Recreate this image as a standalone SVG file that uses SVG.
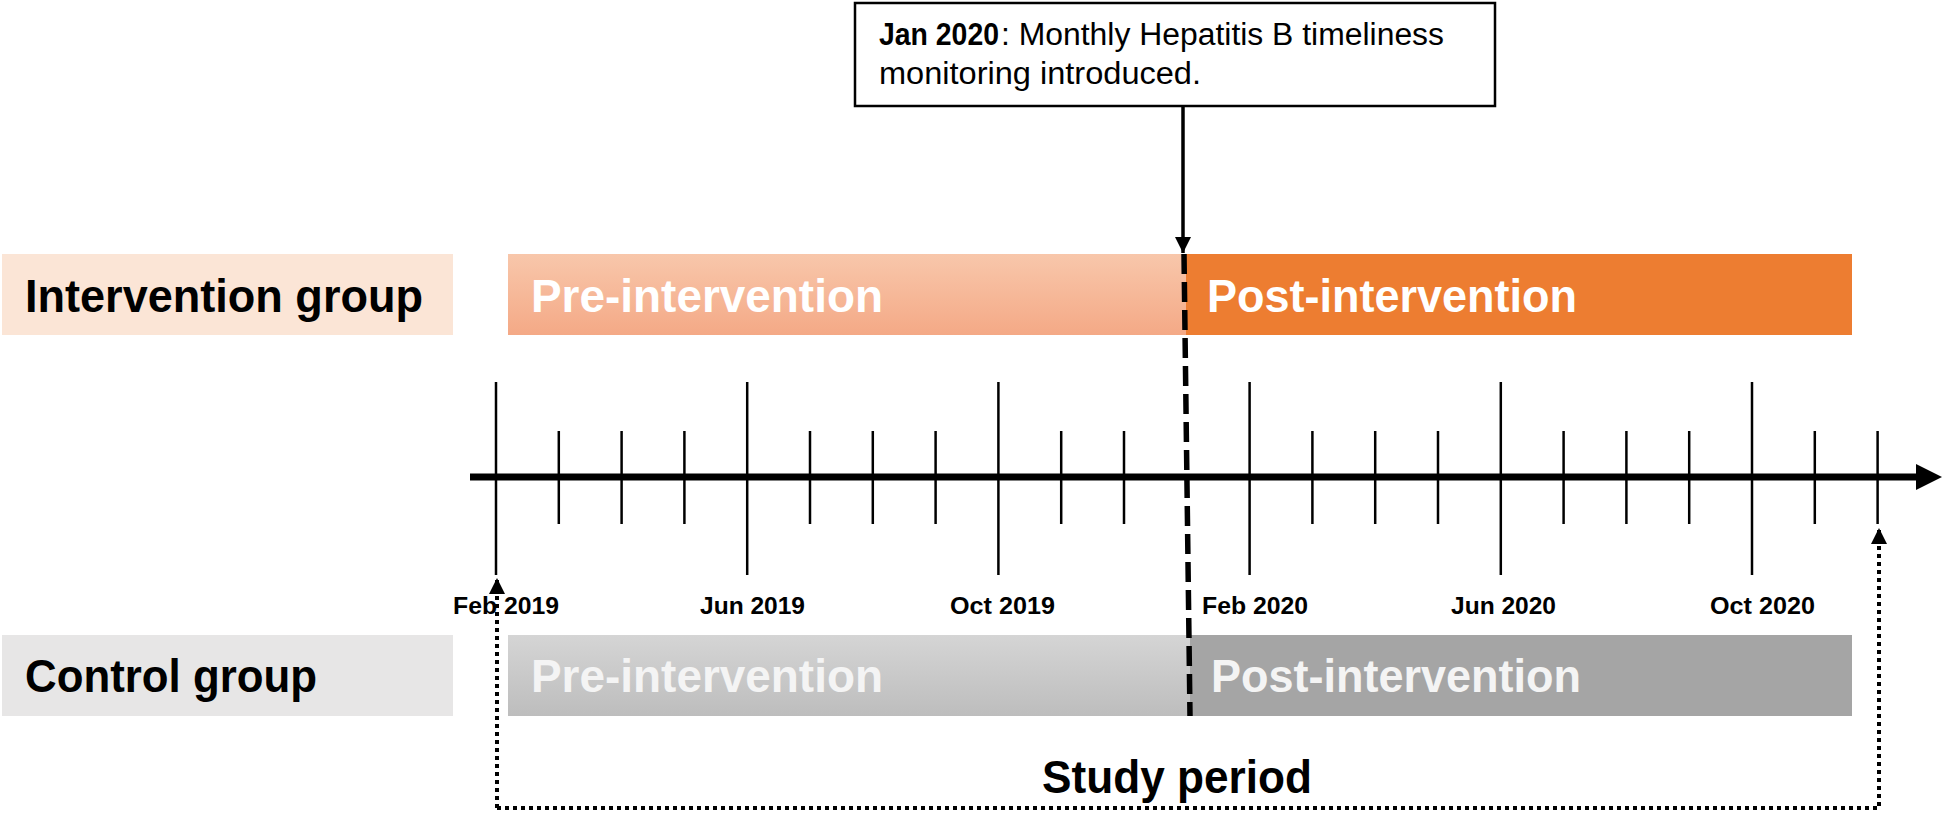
<svg xmlns="http://www.w3.org/2000/svg" width="1944" height="814" viewBox="0 0 1944 814">
  <style>
    .big { font-family: "Liberation Sans", Arial, sans-serif; font-weight: bold; font-size: 46px; }
    .dark { fill: #000000; }
    .white { fill: #ffffff; }
    .date { font-family: "Liberation Sans", Arial, sans-serif; font-weight: bold; font-size: 24px; fill: #000; }
    .note { font-family: "Liberation Sans", Arial, sans-serif; font-size: 31px; fill: #000; }
    .tick { stroke: #000; stroke-width: 2.5; }
  </style>
  <defs>
    <linearGradient id="gPreI" x1="0" y1="0" x2="0" y2="1">
      <stop offset="0" stop-color="#F8C7AB"/>
      <stop offset="1" stop-color="#F4A986"/>
    </linearGradient>
    <linearGradient id="gPreC" x1="0" y1="0" x2="0" y2="1">
      <stop offset="0" stop-color="#D5D5D5"/>
      <stop offset="1" stop-color="#BDBDBD"/>
    </linearGradient>
    <marker id="tri" viewBox="0 0 16 16" refX="16" refY="8" markerWidth="16" markerHeight="16" markerUnits="userSpaceOnUse" orient="auto">
      <path d="M0,0 L16,8 L0,16 z" fill="#000"/>
    </marker>
  </defs>
  <rect width="1944" height="814" fill="#ffffff"/>

  <g id="intervention-label">
    <rect x="2" y="254" width="451" height="81" fill="#FBE5D6"/>
    <text class="big dark" x="25" y="312" textLength="398" lengthAdjust="spacingAndGlyphs">Intervention group</text>
  </g>
  <g id="intervention-pre">
    <rect x="508" y="254" width="678" height="81" fill="url(#gPreI)"/>
    <text class="big white" x="531" y="312" textLength="352" lengthAdjust="spacingAndGlyphs">Pre-intervention</text>
  </g>
  <g id="intervention-post">
    <rect x="1186" y="254" width="666" height="81" fill="#ED7D31"/>
    <text class="big white" x="1207" y="312" textLength="370" lengthAdjust="spacingAndGlyphs">Post-intervention</text>
  </g>

  <g id="control-label">
    <rect x="2" y="635" width="451" height="81" fill="#E7E6E6"/>
    <text class="big dark" x="25" y="692" textLength="292" lengthAdjust="spacingAndGlyphs">Control group</text>
  </g>
  <g id="control-pre">
    <rect x="508" y="635" width="682" height="81" fill="url(#gPreC)"/>
    <text class="big" fill="#F4F4F4" x="531" y="692" textLength="352" lengthAdjust="spacingAndGlyphs">Pre-intervention</text>
  </g>
  <g id="control-post">
    <rect x="1190" y="635" width="662" height="81" fill="#A5A5A5"/>
    <text class="big" fill="#F4F4F4" x="1211" y="692" textLength="370" lengthAdjust="spacingAndGlyphs">Post-intervention</text>
  </g>

  <g id="callout">
    <rect x="855" y="3" width="640" height="103" fill="#fff" stroke="#000" stroke-width="2.5"/>
    <text class="note" x="879" y="45" font-weight="bold" textLength="120" lengthAdjust="spacingAndGlyphs">Jan 2020</text>
    <text class="note" x="1001" y="45" textLength="443" lengthAdjust="spacingAndGlyphs">: Monthly Hepatitis B timeliness</text>
    <text class="note" x="879" y="84" textLength="322" lengthAdjust="spacingAndGlyphs">monitoring introduced.</text>
  </g>

  <g id="timeline">
    <line x1="470" y1="477" x2="1920" y2="477" stroke="#000" stroke-width="7"/>
    <polygon points="1916,464 1942,477 1916,490" fill="#000"/>
    <g class="ticks">
      <line class="tick" x1="496" y1="382" x2="496" y2="575"/>
      <line class="tick" x1="558.8" y1="431" x2="558.8" y2="524"/>
      <line class="tick" x1="621.6" y1="431" x2="621.6" y2="524"/>
      <line class="tick" x1="684.4" y1="431" x2="684.4" y2="524"/>
      <line class="tick" x1="747.2" y1="382" x2="747.2" y2="575"/>
      <line class="tick" x1="810" y1="431" x2="810" y2="524"/>
      <line class="tick" x1="872.8" y1="431" x2="872.8" y2="524"/>
      <line class="tick" x1="935.6" y1="431" x2="935.6" y2="524"/>
      <line class="tick" x1="998.4" y1="382" x2="998.4" y2="575"/>
      <line class="tick" x1="1061.2" y1="431" x2="1061.2" y2="524"/>
      <line class="tick" x1="1124" y1="431" x2="1124" y2="524"/>
      <line class="tick" x1="1249.6" y1="382" x2="1249.6" y2="575"/>
      <line class="tick" x1="1312.4" y1="431" x2="1312.4" y2="524"/>
      <line class="tick" x1="1375.2" y1="431" x2="1375.2" y2="524"/>
      <line class="tick" x1="1438" y1="431" x2="1438" y2="524"/>
      <line class="tick" x1="1500.8" y1="382" x2="1500.8" y2="575"/>
      <line class="tick" x1="1563.6" y1="431" x2="1563.6" y2="524"/>
      <line class="tick" x1="1626.4" y1="431" x2="1626.4" y2="524"/>
      <line class="tick" x1="1689.2" y1="431" x2="1689.2" y2="524"/>
      <line class="tick" x1="1752" y1="382" x2="1752" y2="575"/>
      <line class="tick" x1="1814.8" y1="431" x2="1814.8" y2="524"/>
      <line class="tick" x1="1877.6" y1="431" x2="1877.6" y2="524"/>
    </g>
    <text class="date" x="453" y="614" textLength="106" lengthAdjust="spacingAndGlyphs">Feb 2019</text>
    <text class="date" x="700" y="614" textLength="105" lengthAdjust="spacingAndGlyphs">Jun 2019</text>
    <text class="date" x="950" y="614" textLength="105" lengthAdjust="spacingAndGlyphs">Oct 2019</text>
    <text class="date" x="1202" y="614" textLength="106" lengthAdjust="spacingAndGlyphs">Feb 2020</text>
    <text class="date" x="1451" y="614" textLength="105" lengthAdjust="spacingAndGlyphs">Jun 2020</text>
    <text class="date" x="1710" y="614" textLength="105" lengthAdjust="spacingAndGlyphs">Oct 2020</text>
  </g>

  <g id="connectors">
    <line x1="1183" y1="106" x2="1183" y2="253" stroke="#000" stroke-width="3.5" marker-end="url(#tri)"/>
    <line x1="1184" y1="254" x2="1190" y2="716" stroke="#000" stroke-width="5.5" stroke-dasharray="20 8"/>
    <path d="M497,808 V578" fill="none" stroke="#000" stroke-width="4" stroke-dasharray="4 4" marker-end="url(#tri)"/>
    <path d="M497,808 H1879 V528" fill="none" stroke="#000" stroke-width="4" stroke-dasharray="4 4" marker-end="url(#tri)"/>
  </g>

  <g id="study-period">
    <text class="big dark" x="1042" y="793" textLength="270" lengthAdjust="spacingAndGlyphs">Study period</text>
  </g>
</svg>
